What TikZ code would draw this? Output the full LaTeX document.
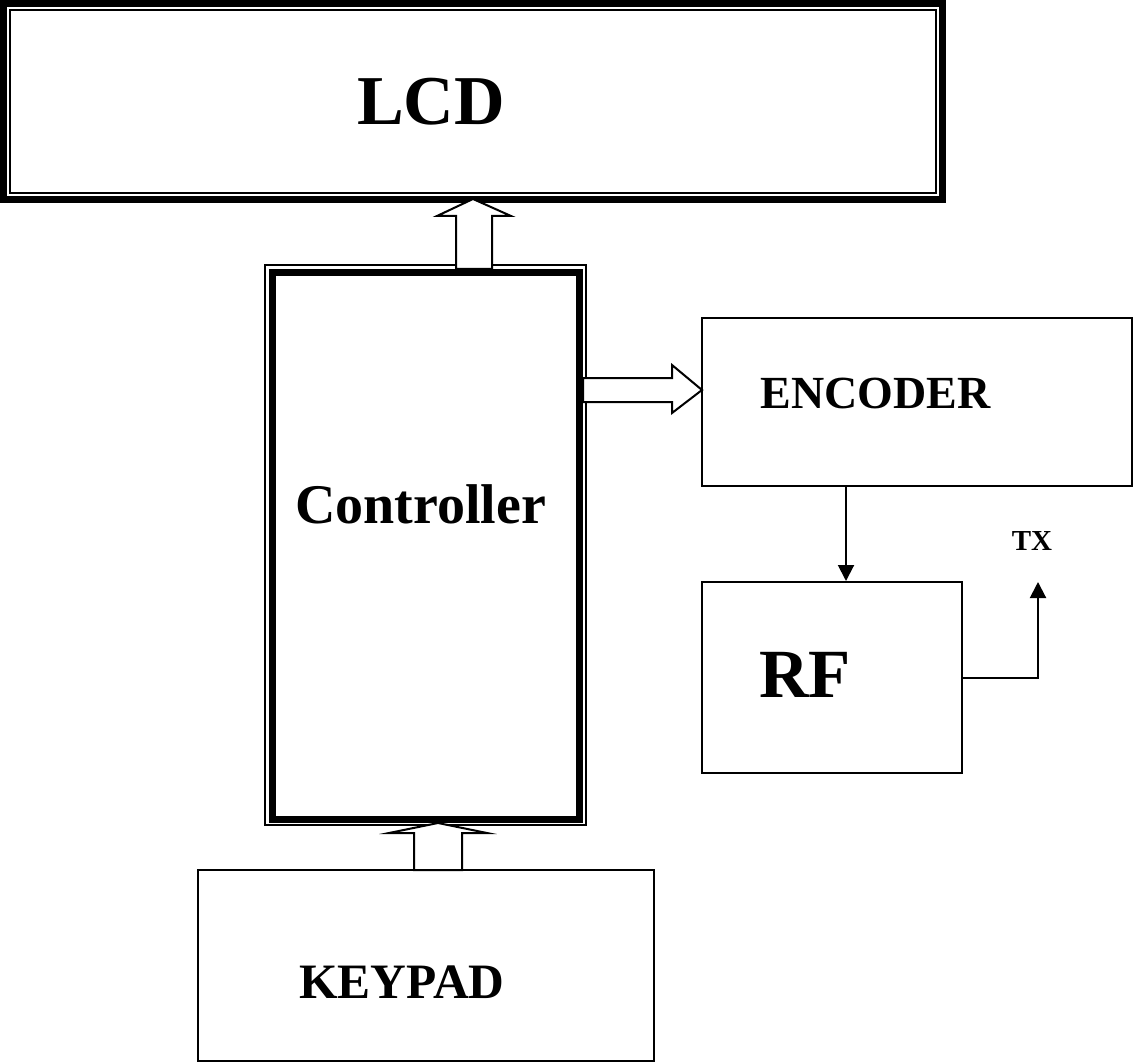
\documentclass[tikz,border=0pt]{standalone}
\usepackage{fontspec}
\setmainfont{Liberation Serif}
\usetikzlibrary{arrows.meta}
\begin{document}
\begin{tikzpicture}[x=1pt,y=-1pt,
  box/.style={draw, line width=2pt, inner sep=0pt},
  lbl/.style={anchor=base, inner sep=0pt},
  blockarrow/.style={draw, fill=white, line width=2pt, line join=miter},
  sig/.style={line width=2pt, -{Triangle[length=16pt,width=16pt]}}]
\useasboundingbox[fill=white] (0,0) rectangle (1134,1064);
% LCD (thick-thin border)
\node[draw, line width=7pt, inner sep=0pt, minimum width=939pt, minimum height=196pt] (lcd) at (473,101.5) {};
\draw[line width=2pt] (10,10) rectangle (936,193);
% Controller (thin-thick border)
\draw[line width=1.5pt] (265,265) rectangle (586,825);
\node[draw, line width=7pt, inner sep=0pt, minimum width=306.5pt, minimum height=547pt] (ctrl) at (425.75,546) {};
% Encoder, RF, Keypad
\node[box, minimum width=430pt, minimum height=168pt] (enc) at (917,402) {};
\node[box, minimum width=260pt, minimum height=191pt] (rf) at (832,677.5) {};
\node[box, minimum width=456pt, minimum height=191pt] (kp) at (426,965.5) {};
% labels
\node[lbl, font=\fontsize{70}{80}\selectfont\bfseries] (lcdt) at (431,125) {LCD};
\node[lbl, font=\fontsize{56}{64}\selectfont\bfseries] (ctrlt) at (420.5,523) {Controller};
\node[lbl, font=\fontsize{46}{54}\selectfont\bfseries] (enct) at (875.5,408) {ENCODER};
\node[lbl, font=\fontsize{69}{78}\selectfont\bfseries] (rft) at (805,697) {RF};
\node[lbl, font=\fontsize{49.5}{56}\selectfont\bfseries] (kpt) at (402,998) {KEYPAD};
\node[lbl, font=\fontsize{29}{34}\selectfont\bfseries] (txt) at (1032,550) {TX};
% signal arrows
\coordinate (ax) at (846,0);
\coordinate (tx) at (1038,582);
\draw[sig] (ax |- enc.south) -- (ax |- rf.north);
\draw[sig] (rf.east) -- (rf.east -| tx) -- (tx);
% block arrows
\draw[blockarrow] (456,269) -- (456,216) -- (437,216) -- (473,199) -- (511,216) -- (492,216) -- (492,269) -- cycle;
\draw[blockarrow] (583,378) -- (672,378) -- (672,365) -- (702,390) -- (672,413) -- (672,402) -- (583,402) -- cycle;
\draw[blockarrow] (414,870) -- (414,833) -- (389,833) -- (438,823) -- (487,833) -- (462,833) -- (462,870) -- cycle;
\end{tikzpicture}
\end{document}
